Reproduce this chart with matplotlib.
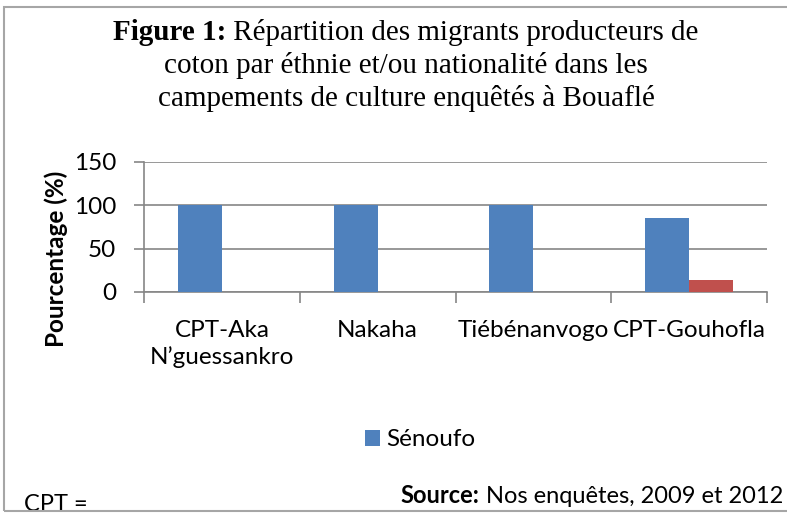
import matplotlib
matplotlib.use("Agg")
import matplotlib.pyplot as plt
from matplotlib.patches import Rectangle
import numpy as np

categories = ["CPT-Aka\nN\u2019guessankro", "Nakaha", "Ti\u00e9b\u00e9nanvogo", "CPT-Gouhofla"]
senoufo = [100, 100, 100, 85.7]
autres = [0, 0, 0, 14.3]
yticks = [0, 50, 100, 150]

W, H = 787, 514
fig = plt.figure(figsize=(W / 100, H / 100), dpi=100)
fig.patch.set_facecolor("white")

def px(x, y):
    return x / W, 1 - y / H

FS = 17.5

l, b = px(144, 292)
r, t = px(767, 162)
ax = fig.add_axes([l, b, r - l, t - b])

x = np.arange(len(categories))
bw = 0.283
blue = "#4F81BD"
red = "#C0504D"
bars1 = ax.bar(x - bw / 2, senoufo, bw, color=blue, label="S\u00e9noufo", zorder=3)
ax.bar(x + bw / 2, autres, bw, color=red, zorder=3)

ax.set_xlim(-0.5, len(categories) - 0.5)
ax.set_ylim(0, 150)
ax.set_yticks(yticks)
ax.set_yticklabels([str(v) for v in yticks], fontsize=FS, fontfamily="Lato")
ax.yaxis.grid(True, color="#868686", linewidth=1.2, zorder=0)
ax.set_axisbelow(True)
for s in ["top", "right"]:
    ax.spines[s].set_visible(False)
for s in ["left", "bottom"]:
    ax.spines[s].set_color("#868686")
    ax.spines[s].set_linewidth(1.2)
ax.tick_params(axis="y", length=7, width=1.2, color="#868686", pad=13)

ax.set_xticks(x)
ax.set_xticklabels(categories, fontsize=FS, fontfamily="Lato", linespacing=1.3)
ax.tick_params(axis="x", which="major", length=0, pad=20)
ax.set_xticks(np.arange(-0.5, len(categories), 1.0), minor=True)
ax.tick_params(axis="x", which="minor", length=8, width=1.2, color="#868686")

ax.set_ylabel("Pourcentage (%)", fontsize=FS, fontweight="bold", fontfamily="Lato")
ax.yaxis.set_label_coords((56 - 144) / (767 - 144), (292 - 259) / 130, transform=ax.transAxes)
ax.yaxis.label.set_va("center")

# legend
leg = fig.legend(handles=[bars1], labels=["S\u00e9noufo"], loc="center",
                 bbox_to_anchor=px(420, 440), frameon=False,
                 prop={"family": "Lato", "size": FS},
                 handlelength=0.65, handleheight=0.65, handletextpad=0.25)

# title with bold part
fig.canvas.draw()
renderer = fig.canvas.get_renderer()
tsize = 21
title_font = "Liberation Serif"
bold_part = "Figure 1:"
line1_rest = " R\u00e9partition des migrants producteurs de"
lines = ["coton par \u00e9thnie et/ou nationalit\u00e9 dans les",
         "campements de culture enqu\u00eat\u00e9s \u00e0 Bouafl\u00e9"]
cx = 406
t1 = fig.text(0, 0, bold_part, fontsize=tsize, fontweight="bold", fontfamily=title_font)
t2 = fig.text(0, 0, line1_rest, fontsize=tsize, fontfamily=title_font)
w1 = t1.get_window_extent(renderer).width
w2 = t2.get_window_extent(renderer).width
start = cx - (w1 + w2) / 2
y1 = 40
t1.set_position(px(start, y1))
t2.set_position(px(start + w1, y1))
for i, ln in enumerate(lines):
    fig.text(*px(cx, y1 + 33 * (i + 1)), ln, fontsize=tsize, fontfamily=title_font,
             ha="center", va="baseline")

# source
s1 = fig.text(0, 0, "Source:", fontsize=17, fontweight="bold", fontfamily="Lato")
s2 = fig.text(0, 0, " Nos enqu\u00eates, 2009 et 2012", fontsize=17, fontfamily="Lato")
sw1 = s1.get_window_extent(renderer).width
sw2 = s2.get_window_extent(renderer).width
send = 783
s1.set_position(px(send - sw1 - sw2, 503))
s2.set_position(px(send - sw2, 503))

fig.text(*px(24, 511), "CPT =", fontsize=17, fontfamily="Lato", va="baseline")

# border (drawn above text like the reference frame)
fig.patches.append(Rectangle(px(4, 511), (800 - 4) / W, (511 - 7) / H,
                             transform=fig.transFigure, fill=False,
                             edgecolor="#a6a6a6", linewidth=1.5, zorder=5))

fig.savefig("out.png", dpi=100)
